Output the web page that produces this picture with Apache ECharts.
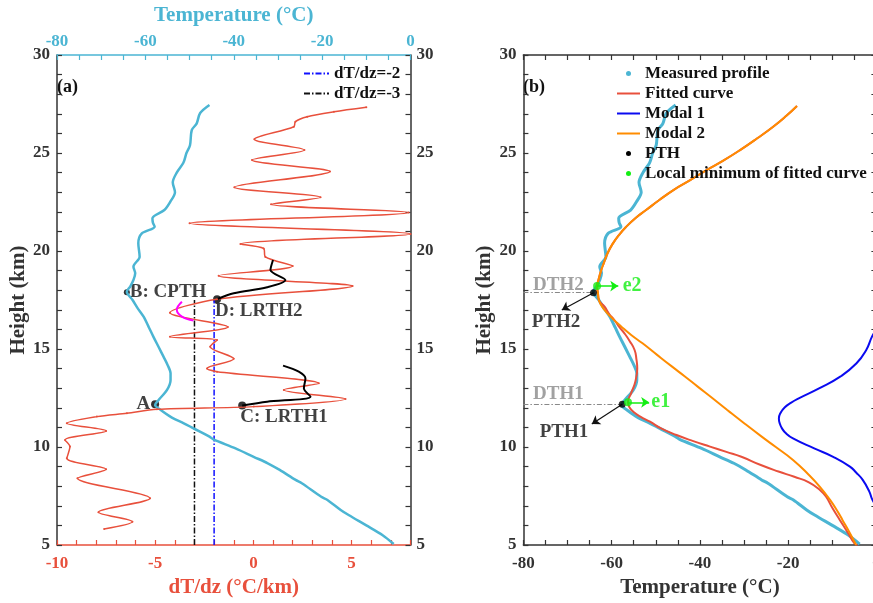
<!DOCTYPE html>
<html>
<head>
<meta charset="utf-8">
<script src="https://cdn.jsdelivr.net/npm/echarts@6/dist/echarts.min.js"></script>
<style>
html,body{margin:0;padding:0;background:#fff;}
#chart{width:873px;height:603px;}
</style>
</head>
<body>
<div id="chart"></div>
<script>
// measured temperature profile (used in both panels)
const tempHeight = [5.05, 5.5, 6.0, 6.53, 6.79, 7.3, 7.46, 8.15, 8.32, 8.83, 9.17, 9.5, 9.93, 10.39, 10.53, 10.95, 11.21, 11.5, 11.9, 12.14, 12.4, 12.91, 13.42, 13.76, 14.2, 14.61, 15.1, 15.63, 16.1, 16.65, 17.1, 17.5, 17.92, 18.2, 18.52, 18.86, 19.2, 19.71, 20.39, 20.9, 21.24, 21.45, 21.67, 22.09, 22.5, 23.0, 23.5, 24.0, 24.5, 25.0, 25.4, 26.17, 26.5, 27.04, 27.45]
const tempValue = [-3.8, -6.3, -10.0, -14.0, -15.8, -18.8, -20.2, -24.6, -26.0, -29.6, -32.3, -35.5, -39.6, -44.6, -45.5, -49.1, -51.3, -54.0, -56.6, -57.8, -57.0, -55.1, -54.3, -54.3, -55.0, -55.9, -57.0, -58.2, -59.2, -60.4, -61.8, -62.9, -64.2, -63.4, -62.7, -62.3, -62.7, -61.3, -61.6, -60.8, -57.9, -58.3, -58.4, -55.7, -54.4, -53.3, -53.8, -52.9, -51.4, -50.7, -49.9, -49.5, -48.4, -47.6, -45.5]

// panel (a): lapse rate dT/dz
const lapseHeight = [5.82, 6.19, 6.67, 7.38, 8.4, 8.86, 9.42, 10.02, 10.36, 10.82, 11.21, 11.55, 11.72, 11.92, 12.06, 12.45, 12.91, 13.25, 13.84, 14.01, 14.5, 15.12, 15.46, 15.63, 16.12, 16.85, 17.54, 18.21, 18.74, 19.23, 19.7, 20.13, 20.36, 20.87, 21.41, 21.97, 22.38, 22.74, 23.25, 24.05, 24.64, 25.15, 25.7, 26.34, 26.6, 26.85, 27.1, 27.33]
const lapseValue = [-7.6, -6.16, -7.89, -5.26, -8.96, -7.5, -9.5, -9.34, -9.59, -7.5, -9.5, -7.97, -6.44, -4.91, 0.02, 4.69, 1.55, 3.33, -1.85, -2.36, -1.0, -2.2, -1.85, -4.25, -1.3, -4.25, -1.85, 5.05, -1.77, 2.0, 0.61, 0.52, -0.66, 8.0, -3.25, 7.9, 0.9, 3.42, -0.97, 3.9, -0.07, 2.6, 0.05, 2.06, 2.14, 2.74, 4.1, 5.75]

const lrth1Height = [12.12, 12.31, 12.57, 13.0, 13.5, 13.84, 14.15]
const lrth1Value = [-0.57, 0.7, 2.91, 2.57, 2.65, 2.31, 1.51]
const lrth2Height = [17.54, 17.84, 18.15, 18.52, 19.03, 19.54]
const lrth2Value = [-1.85, -1.0, 0.7, 1.63, 0.87, 1.0]
const cpthHeight = [16.45, 16.65, 17.0, 17.41]
const cpthValue = [-3.05, -3.64, -3.9, -3.64]

const refLapse = [-2, -3]
const refTop = 17.5

// panel (b): fitted curve and its two modes
const fitHeight = [5.0, 5.09, 5.6, 6.28, 6.9, 7.46, 7.81, 8.2, 8.48, 8.75, 9.08, 9.5, 9.75, 10.02, 10.3, 10.61, 10.95, 11.29, 11.55, 11.8, 12.0, 12.28, 12.74, 13.2, 13.59, 14.0, 14.5, 14.95, 15.4, 15.8, 16.1, 16.48, 16.8, 17.16, 17.5, 17.84, 18.2, 18.52, 19.0, 19.37, 19.9, 20.39, 20.8, 21.24, 21.7, 22.09, 22.6, 23.11, 23.6, 24.13, 24.6, 25.15, 25.75, 26.34, 26.9, 27.4]
const fitTemp = [-4.3, -5.0, -6.4, -8.3, -10.0, -11.4, -12.8, -15.3, -18.6, -22.2, -26.2, -30.6, -34.0, -37.7, -41.5, -45.3, -48.8, -51.3, -53.5, -55.1, -55.9, -56.3, -55.6, -54.8, -54.4, -54.2, -54.4, -54.8, -55.9, -57.1, -58.2, -59.4, -60.6, -61.6, -62.9, -63.1, -63.3, -63.0, -62.4, -61.8, -60.9, -59.7, -58.4, -56.7, -54.5, -52.2, -49.2, -46.0, -42.3, -38.5, -34.8, -30.9, -27.0, -23.4, -20.4, -18.0]
const modal1Height = [7.0, 7.3, 7.72, 8.32, 8.7, 9.0, 9.5, 9.93, 10.44, 10.7, 10.95, 11.2, 11.46, 11.75, 12.02, 12.25, 12.48, 12.99, 13.59, 14.27, 14.95, 15.63, 16.0]
const modal1Temp = [0.0, -0.9, -1.6, -3.1, -4.6, -6.0, -9.8, -14.1, -18.9, -20.5, -21.4, -21.9, -22.1, -21.7, -20.8, -19.4, -17.6, -13.0, -8.2, -4.5, -2.3, -1.0, 0.0]
const modal2Height = [5.0, 5.6, 6.28, 6.6, 7.3, 7.97, 8.6, 9.34, 10.0, 10.53, 11.2, 11.89, 12.5, 13.08, 13.6, 14.1, 14.7, 15.29, 15.7, 16.14, 16.6, 16.99, 17.5, 17.84, 18.2, 18.52, 19.0, 19.37, 19.9, 20.39, 20.8, 21.24, 21.7, 22.09, 22.6, 23.11, 23.6, 24.13, 24.6, 25.15, 25.75, 26.34, 26.9, 27.4]
const modal2Temp = [-4.6, -6.0, -7.7, -8.5, -10.5, -12.8, -15.4, -18.9, -22.8, -26.0, -29.9, -33.8, -37.2, -40.5, -43.4, -46.3, -49.7, -53.0, -55.5, -57.8, -60.0, -61.6, -62.9, -63.1, -63.3, -63.0, -62.4, -61.8, -60.9, -59.7, -58.4, -56.7, -54.5, -52.2, -49.2, -46.0, -42.3, -38.5, -34.8, -30.9, -27.0, -23.4, -20.4, -18.0]

const pthTemp = [-57.6, -64.1]
const pthHeight = [12.18, 17.87]
const localMinTemp = [-56.3, -63.3]
const localMinHeight = [12.28, 18.21]

const red = '#e8503c'
const cyan = '#4bb5d3'
const font = 'Liberation Serif'

function pairs(xs, ys){
  return xs.map((x,i)=>[x, ys[i]])
}

function bold(size, color){
  return {fontFamily: font, fontWeight: 'bold', fontSize: size, color: color}
}

function valueAxis(opt){
  let c = opt.color || '#333'
  let step = opt.step
  return Object.assign({
    type: 'value',
    min: opt.min, max: opt.max, interval: opt.interval,
    gridIndex: opt.grid,
    position: opt.position,
    splitLine: {show: false},
    axisLine: {show: true, onZero: false, lineStyle: {color: c, width: 1.5}},
    axisTick: {show: true, inside: true, length: 5, lineStyle: {color: opt.tickColor || c, width: 1.2}},
    axisLabel: {
      show: opt.labels !== false,
      margin: opt.margin || 8,
      formatter: v => (Math.abs(v % step) < 1e-6 ? String(v) : ''),
      ...bold(17, c)
    },
    nameTextStyle: bold(21, c)
  }, opt.extra || {})
}

const lineOnly = {opacity: 0}
const dotOnly = {opacity: 1}

let myechart = echarts.init(document.getElementById('chart'))

let option = {
  animation: false,
  backgroundColor: '#fff',
  grid: [
    {left: 57, top: 55, width: 353.5, height: 490, outerBoundsMode: 'none'},
    {left: 523.4, top: 55, width: 353, height: 490, outerBoundsMode: 'none'}
  ],
  xAxis: [
    valueAxis({grid: 0, position: 'bottom', min: -10, max: 8, interval: 1, step: 5, color: red, tickColor: red, margin: 10,
      extra: {name: 'dT/dz (°C/km)', nameLocation: 'middle', nameGap: 31}}),
    valueAxis({grid: 0, position: 'top', min: -80, max: 0, interval: 5, step: 20, color: cyan, margin: 5,
      extra: {name: 'Temperature (°C)', nameLocation: 'middle', nameGap: 29}}),
    valueAxis({grid: 1, position: 'bottom', min: -80, max: 0, interval: 5, step: 20, margin: 10,
      extra: {name: 'Temperature (°C)', nameLocation: 'middle', nameGap: 29}}),
    valueAxis({grid: 1, position: 'top', min: -80, max: 0, interval: 5, step: 20, labels: false})
  ],
  yAxis: [
    valueAxis({grid: 0, position: 'left', min: 5, max: 30, interval: 1, step: 5, margin: 7,
      extra: {name: 'Height (km)', nameLocation: 'middle', nameGap: 27}}),
    valueAxis({grid: 0, position: 'right', min: 5, max: 30, interval: 1, step: 5, margin: 6}),
    valueAxis({grid: 1, position: 'left', min: 5, max: 30, interval: 1, step: 5, margin: 7,
      extra: {name: 'Height (km)', nameLocation: 'middle', nameGap: 27}}),
    valueAxis({grid: 1, position: 'right', min: 5, max: 30, interval: 1, step: 5, labels: false})
  ],
  legend: [
    {
      data: [
        {name: 'dT/dz=-2', itemStyle: lineOnly},
        {name: 'dT/dz=-3', itemStyle: lineOnly}
      ],
      orient: 'vertical', left: 298, top: 60,
      itemWidth: 25, itemHeight: 6, itemGap: 3,
      textStyle: {...bold(17, '#111'), lineHeight: 16}
    },
    {
      data: [
        {name: 'Measured profile', icon: 'circle', itemStyle: dotOnly},
        {name: 'Fitted curve', itemStyle: lineOnly},
        {name: 'Modal 1', itemStyle: lineOnly},
        {name: 'Modal 2', itemStyle: lineOnly},
        {name: 'PTH', itemStyle: dotOnly},
        {name: 'Local minimum of fitted curve', itemStyle: dotOnly}
      ],
      orient: 'vertical', left: 611, top: 60,
      itemWidth: 23, itemHeight: 5, itemGap: 3,
      textStyle: {...bold(17, '#111'), lineHeight: 16}
    }
  ],
  graphic: [
    {type: 'text', left: 57, top: 78, style: {text: '(a)', font: 'bold 18px "Liberation Serif"', fill: '#111'}},
    {type: 'text', left: 523, top: 78, style: {text: '(b)', font: 'bold 18px "Liberation Serif"', fill: '#111'}}
  ],
  series: [
    // ---------- panel (a)
    {
      name: 'dT/dz=-2', type: 'line', xAxisIndex: 0, yAxisIndex: 0, symbol: 'none',
      data: [[refLapse[0], 5], [refLapse[0], refTop]],
      lineStyle: {color: '#1010ff', width: 1.5, type: [6, 2, 1.5, 2]}, itemStyle: {color: '#1010ff'}
    },
    {
      name: 'dT/dz=-3', type: 'line', xAxisIndex: 0, yAxisIndex: 0, symbol: 'none',
      data: [[refLapse[1], 5], [refLapse[1], refTop]],
      lineStyle: {color: '#111', width: 1.5, type: [6, 2, 1.5, 2]}, itemStyle: {color: '#111'}
    },
    {
      name: 'temp', type: 'line', xAxisIndex: 1, yAxisIndex: 0, symbol: 'none', smooth: 0.3,
      data: pairs(tempValue, tempHeight),
      lineStyle: {color: cyan, width: 2.5}
    },
    {
      name: 'lapse', type: 'line', xAxisIndex: 0, yAxisIndex: 0, smooth: 0.3,
      symbol: 'circle', symbolSize: 2,
      data: pairs(lapseValue, lapseHeight),
      lineStyle: {color: red, width: 1.5}, itemStyle: {color: red}
    },
    {
      name: 'lrth1', type: 'line', xAxisIndex: 0, yAxisIndex: 0, symbol: 'none', smooth: 0.3,
      data: pairs(lrth1Value, lrth1Height), lineStyle: {color: '#000', width: 2}
    },
    {
      name: 'lrth2', type: 'line', xAxisIndex: 0, yAxisIndex: 0, symbol: 'none', smooth: 0.3,
      data: pairs(lrth2Value, lrth2Height), lineStyle: {color: '#000', width: 2}
    },
    {
      name: 'cpth', type: 'line', xAxisIndex: 0, yAxisIndex: 0, symbol: 'none', smooth: 0.4,
      data: pairs(cpthValue, cpthHeight), lineStyle: {color: '#ff00ff', width: 2}
    },
    {
      name: 'pointsLapse', type: 'scatter', xAxisIndex: 0, yAxisIndex: 0, symbolSize: 8,
      itemStyle: {color: '#000'},
      label: {show: true, formatter: p => p.name, position: [2, 6], ...bold(19, '#111')},
      data: [
        {name: 'C: LRTH1', value: [-0.57, 12.12]},
        {name: 'D: LRTH2', value: [-1.85, 17.54]}
      ]
    },
    {
      name: 'pointsTemp', type: 'scatter', xAxisIndex: 1, yAxisIndex: 0,
      itemStyle: {color: '#000'},
      data: [
        {name: 'A', value: [-57.8, 12.18], symbolSize: 8,
          label: {show: true, formatter: 'A', position: 'left', distance: 1, ...bold(19, '#111')}},
        {name: 'B: CPTH', value: [-64.2, 17.9], symbolSize: 6,
          label: {show: true, formatter: 'B: CPTH', position: 'right', distance: 0, ...bold(19, '#111')}}
      ]
    },
    // ---------- panel (b)
    {
      name: 'Measured profile', type: 'line', xAxisIndex: 2, yAxisIndex: 2, symbol: 'none', smooth: 0.3,
      data: pairs(tempValue, tempHeight),
      lineStyle: {color: cyan, width: 3}, itemStyle: {color: cyan}
    },
    {
      name: 'Fitted curve', type: 'line', xAxisIndex: 2, yAxisIndex: 2, symbol: 'none', smooth: 0.5,
      data: pairs(fitTemp, fitHeight),
      lineStyle: {color: red, width: 2}, itemStyle: {color: red}
    },
    {
      name: 'Modal 1', type: 'line', xAxisIndex: 2, yAxisIndex: 2, symbol: 'none', smooth: 0.5,
      data: pairs(modal1Temp, modal1Height),
      lineStyle: {color: '#0a0af0', width: 2}, itemStyle: {color: '#0a0af0'}
    },
    {
      name: 'Modal 2', type: 'line', xAxisIndex: 2, yAxisIndex: 2, symbol: 'none', smooth: 0.5,
      data: pairs(modal2Temp, modal2Height),
      lineStyle: {color: '#ff8c00', width: 2}, itemStyle: {color: '#ff8c00'}
    },
    {
      name: 'PTH', type: 'scatter', xAxisIndex: 2, yAxisIndex: 2, symbolSize: 7, z: 5,
      data: pairs(pthTemp, pthHeight), itemStyle: {color: '#000'},
      markLine: {
        silent: true, symbol: 'none', label: {show: false},
        lineStyle: {color: '#888', width: 1, type: [5, 2, 1.5, 2]},
        data: pthTemp.map((t, i) => [{coord: [-80, pthHeight[i]]}, {coord: [t, pthHeight[i]]}])
      }
    },
    {
      name: 'Local minimum of fitted curve', type: 'scatter', xAxisIndex: 2, yAxisIndex: 2, symbolSize: 8, z: 6,
      data: pairs(localMinTemp, localMinHeight), itemStyle: {color: '#12ee12'},
      markLine: {
        silent: true, symbol: ['none', 'arrow'], symbolSize: 8, label: {show: false},
        lineStyle: {color: '#12ee12', width: 1.5, type: 'solid'},
        data: localMinTemp.map((t, i) => [{coord: [t, localMinHeight[i]]}, {coord: [t + 4.8, localMinHeight[i]]}])
      }
    },
    {
      name: 'notes', type: 'scatter', xAxisIndex: 2, yAxisIndex: 2, symbolSize: 0, silent: true, z: 6,
      label: {show: true, formatter: p => p.name, position: 'inside', ...bold(19, '#111')},
      data: [
        {name: 'PTH2', value: [-72.6, 16.38]},
        {name: 'PTH1', value: [-70.8, 10.77]},
        {name: 'DTH2', value: [-77.8, 18.25], label: {position: 'right', distance: 0, color: '#8a8a8a'}},
        {name: 'DTH1', value: [-77.8, 12.7], label: {position: 'right', distance: 0, color: '#8a8a8a'}},
        {name: 'e1', value: [-51.0, 12.28], label: {position: 'right', distance: 0, color: '#12ee12', fontSize: 20}},
        {name: 'e2', value: [-57.5, 18.21], label: {position: 'right', distance: 0, color: '#12ee12', fontSize: 20}}
      ],
      markLine: {
        silent: true, symbol: ['none', 'arrow'], symbolSize: 8, label: {show: false},
        lineStyle: {color: '#111', width: 1.2, type: 'solid'},
        data: [
          [{coord: [pthTemp[0], pthHeight[0]]}, {coord: [-64.5, 11.17]}],
          [{coord: [pthTemp[1], pthHeight[1]]}, {coord: [-71.3, 16.99]}]
        ]
      }
    }
  ]
}

myechart.setOption(option)
</script>
</body>
</html>
